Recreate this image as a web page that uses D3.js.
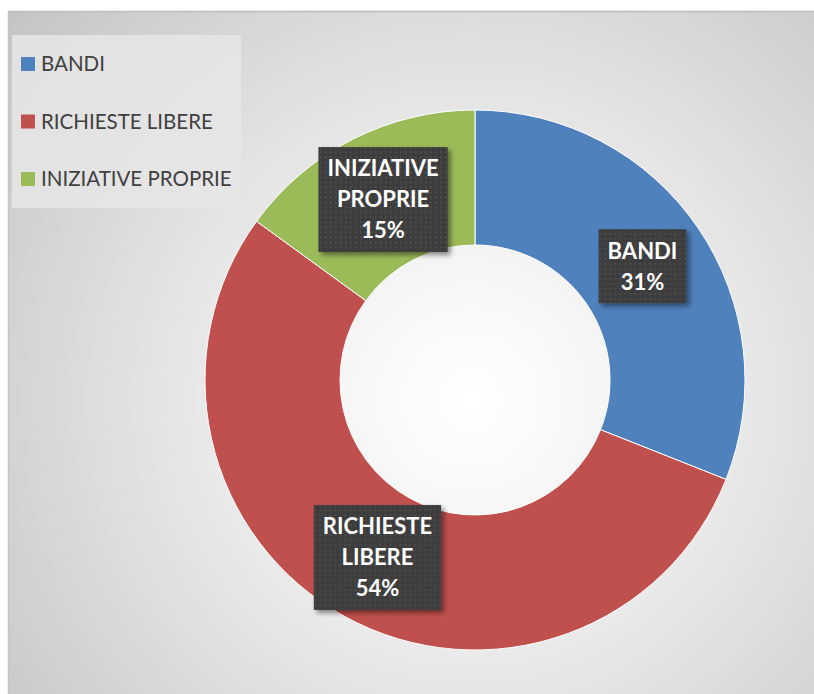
<!DOCTYPE html>
<html>
<head>
<meta charset="utf-8">
<script src="https://d3js.org/d3.v7.min.js"></script>
<style>
  body { margin: 0; background: #fff; }
  text { font-family: Lato, "Open Sans", sans-serif; }
</style>
</head>
<body>
<script>
// data
const categories = ["BANDI", "RICHIESTE LIBERE", "INIZIATIVE PROPRIE"]
const values = [31, 54, 15]
const colors = ["#4f81bd", "#c0504d", "#9bbb59"]
const labelLines = [["BANDI"], ["RICHIESTE", "LIBERE"], ["INIZIATIVE", "PROPRIE"]]

const width = 814, height = 694
const cx = 475, cy = 380, outerR = 270, innerR = 135

const svg = d3.select("body").append("svg")
    .attr("width", width)
    .attr("height", height)

const defs = svg.append("defs")

// background gradient
const bg = defs.append("radialGradient")
    .attr("id", "bg")
    .attr("gradientUnits", "userSpaceOnUse")
    .attr("cx", 470).attr("cy", 400).attr("r", 600)
bg.append("stop").attr("offset", "0%").attr("stop-color", "#ffffff")
bg.append("stop").attr("offset", "30%").attr("stop-color", "#f2f2f2")
bg.append("stop").attr("offset", "70%").attr("stop-color", "#d8d8d8")
bg.append("stop").attr("offset", "100%").attr("stop-color", "#c4c4c4")

// dotted pattern for the label boxes
const pat = defs.append("pattern")
    .attr("id", "dots")
    .attr("width", 5).attr("height", 5)
    .attr("patternUnits", "userSpaceOnUse")
pat.append("rect").attr("width", 5).attr("height", 5).attr("fill", "#3c3c3c")
pat.append("rect").attr("x", 2).attr("y", 2).attr("width", 1.4).attr("height", 1.4).attr("fill", "#5a5a5a")

const shadow = defs.append("filter").attr("id", "shadow")
    .attr("x", "-20%").attr("y", "-20%").attr("width", "150%").attr("height", "150%")
shadow.append("feDropShadow")
    .attr("dx", 3).attr("dy", 3).attr("stdDeviation", 2.5)
    .attr("flood-color", "#000").attr("flood-opacity", 0.45)

// chart area
svg.append("rect")
    .attr("x", 8).attr("y", 11)
    .attr("width", width - 8).attr("height", height - 11)
    .attr("fill", "url(#bg)")
svg.append("line")
    .attr("x1", 8).attr("x2", width).attr("y1", 11.5).attr("y2", 11.5)
    .attr("stroke", "#bcbcbc").attr("stroke-width", 1.5)
svg.append("line")
    .attr("x1", 8.5).attr("x2", 8.5).attr("y1", 11).attr("y2", height)
    .attr("stroke", "#c4c4c4").attr("stroke-width", 1.5)

// donut
const pie = d3.pie().sort(null).value(d => d)
const arc = d3.arc().innerRadius(innerR).outerRadius(outerR)
const arcs = pie(values)

const g = svg.append("g").attr("transform", `translate(${cx},${cy})`)

g.selectAll("path.slice")
    .data(arcs)
    .enter().append("path")
    .attr("class", "slice")
    .attr("d", arc)
    .attr("fill", (d, i) => colors[i])
    .attr("stroke", "#fff")
    .attr("stroke-width", 1)

// data labels
const lineH = 31
arcs.forEach((d, i) => {
    const [lx, ly] = arc.centroid(d)
    const lines = labelLines[i].concat([values[i] + "%"])
    const lg = g.append("g").attr("transform", `translate(${lx},${ly})`)
    const box = lg.append("rect").attr("fill", "url(#dots)").attr("filter", "url(#shadow)")
    const t = lg.append("text")
        .attr("text-anchor", "middle")
        .attr("fill", "#fff")
        .style("font-size", "22px")
        .style("font-weight", "bold")
    lines.forEach((s, j) => {
        t.append("tspan")
            .attr("x", 0)
            .attr("y", (j - (lines.length - 1) / 2) * lineH)
            .attr("dy", "0.36em")
            .text(s)
    })
    const bb = t.node().getBBox()
    const padX = 9, padY = 6
    const h = lines.length * lineH + 2 * padY
    box.attr("x", bb.x - padX).attr("y", -h / 2)
        .attr("width", bb.width + 2 * padX)
        .attr("height", h)
})

// legend
const leg = svg.append("g")
leg.append("rect")
    .attr("x", 12).attr("y", 35).attr("width", 229).attr("height", 173)
    .attr("fill", "#e6e6e6").attr("opacity", 0.85)

const ly = d3.scalePoint().domain(categories).range([64, 179])
categories.forEach((c, i) => {
    leg.append("rect")
        .attr("x", 21).attr("y", ly(c) - 7)
        .attr("width", 14).attr("height", 14)
        .attr("fill", colors[i])
    leg.append("text")
        .attr("x", 41).attr("y", ly(c))
        .attr("dy", "0.35em")
        .attr("fill", "#404040")
        .style("font-size", "20.5px")
        .text(c)
})
</script>
</body>
</html>
